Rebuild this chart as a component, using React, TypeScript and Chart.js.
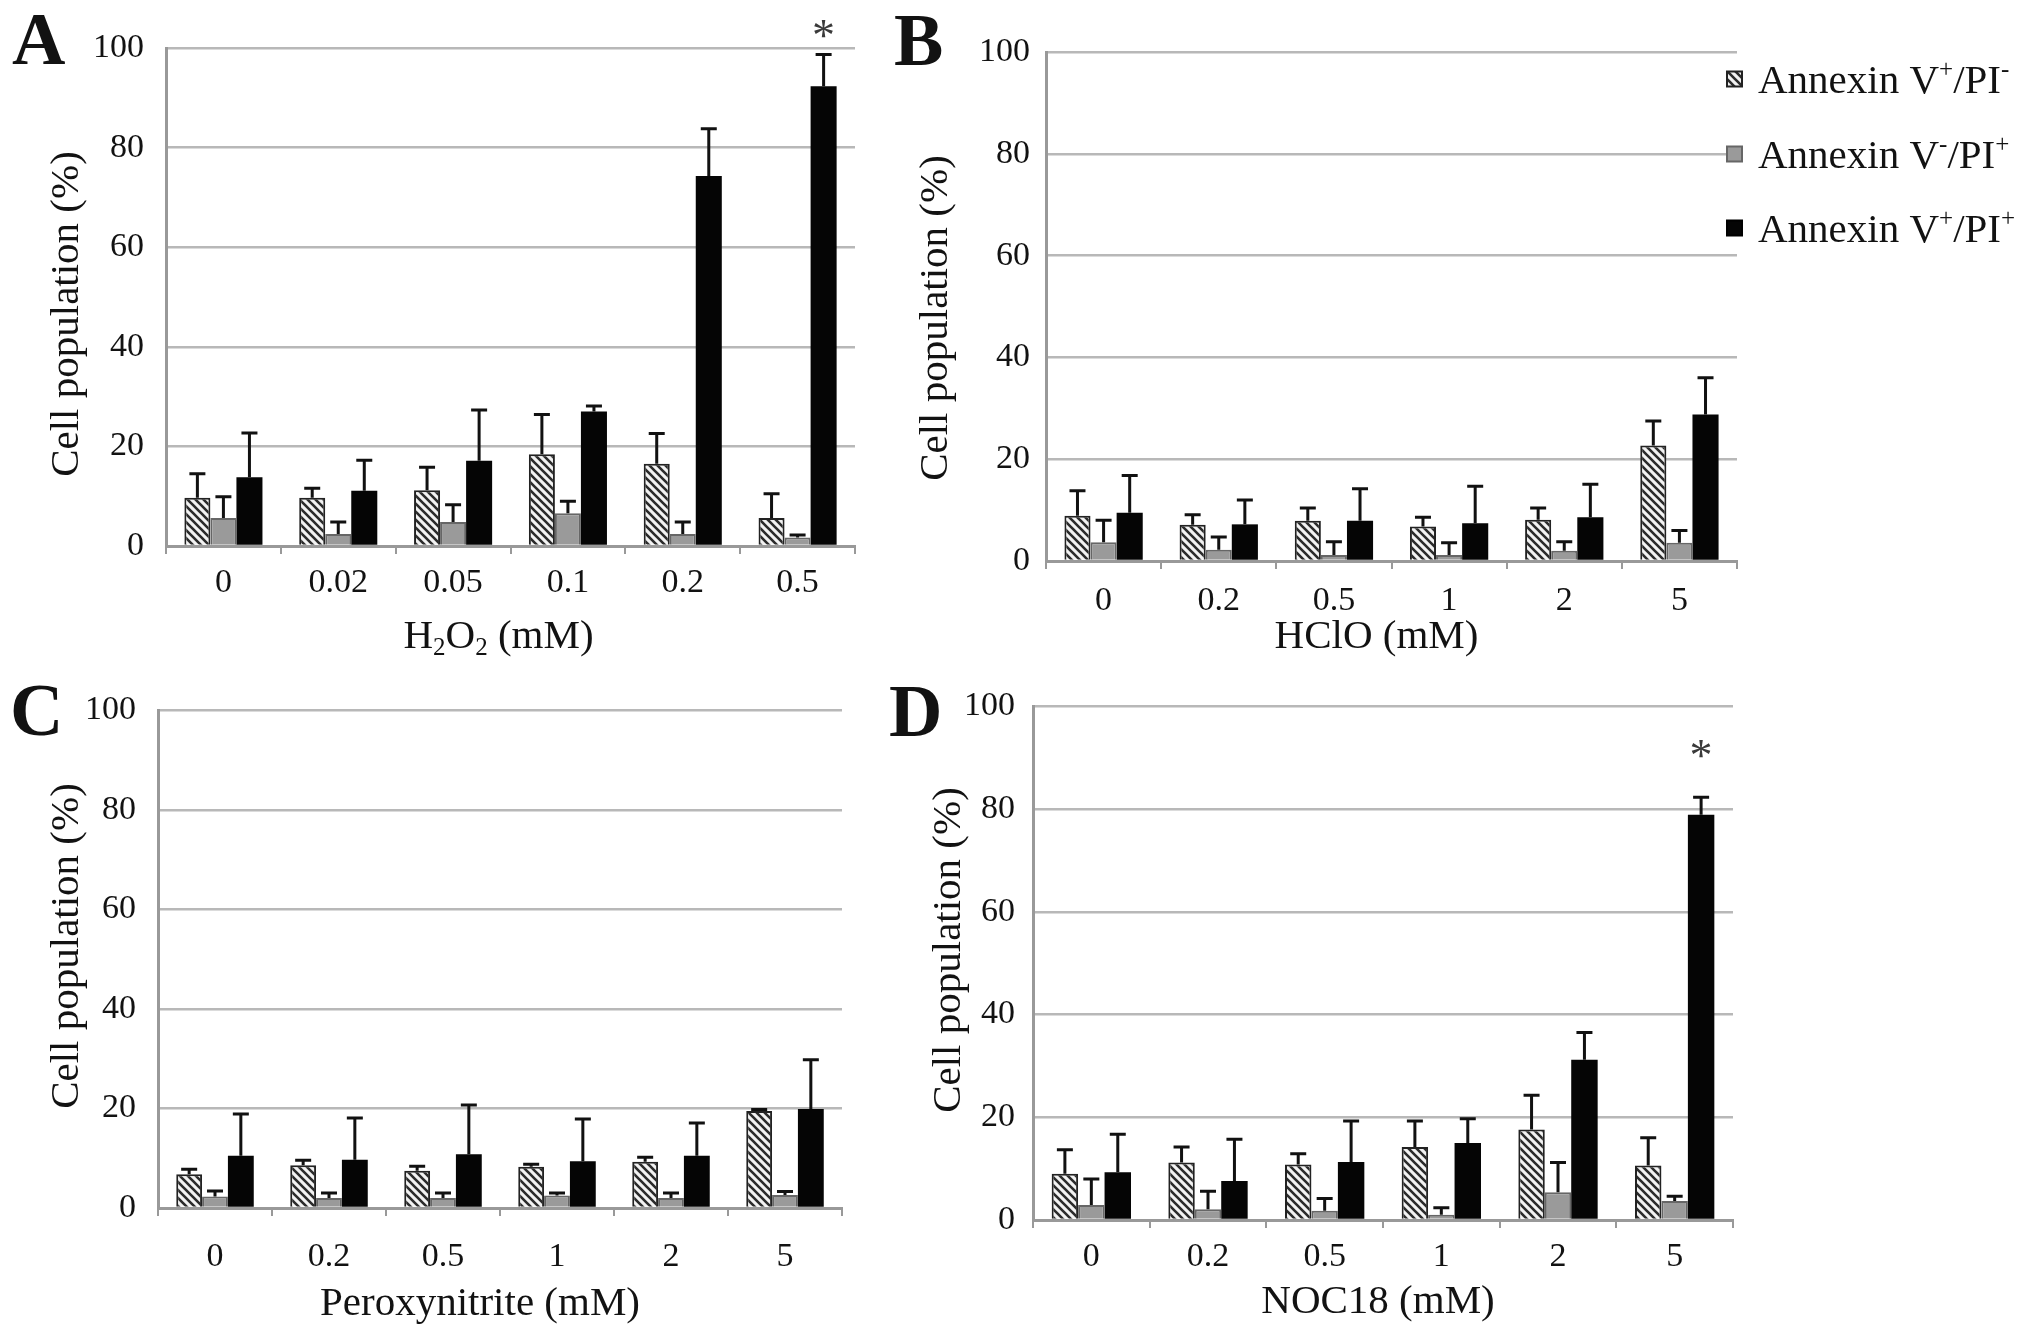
import React, { useEffect, useRef } from "react";
import { Chart, registerables } from "chart.js";

Chart.register(...registerables);

const FONT = "'Liberation Serif', 'Times New Roman', serif";
const INK = "#121212";

// legend labels, ^x = superscript, _x = subscript
const seriesLabels = ["Annexin V^+/PI^-", "Annexin V^-/PI^+", "Annexin V^+/PI^+"];
const yTitle = "Cell population (%)";
const yTicks = [0, 20, 40, 60, 80, 100];

// A: H2O2
const catsA = ["0", "0.02", "0.05", "0.1", "0.2", "0.5"];
const aEarly = [9.7, 9.7, 11.2, 18.4, 16.5, 5.6];
const aNecro = [5.6, 2.4, 4.8, 6.6, 2.4, 1.7];
const aLate = [13.8, 11.1, 17.1, 27.0, 74.3, 92.3];
const aEarlySd = [4.8, 1.9, 4.6, 8.0, 6.1, 4.9];
const aNecroSd = [4.3, 2.4, 3.5, 2.4, 2.4, 0.5];
const aLateSd = [8.9, 6.1, 10.2, 1.1, 9.5, 6.4];
const starsA = [{ index: 5, series: 2, at: 104.5 }];

// B: HClO
const catsB = ["0", "0.2", "0.5", "1", "2", "5"];
const bEarly = [8.9, 7.1, 7.9, 6.8, 8.1, 22.7];
const bNecro = [3.7, 2.2, 1.2, 1.2, 2.0, 3.6];
const bLate = [9.5, 7.2, 7.9, 7.4, 8.6, 28.8];
const bEarlySd = [4.9, 2.0, 2.5, 1.8, 2.3, 4.8];
const bNecroSd = [4.3, 2.5, 2.6, 2.4, 1.8, 2.4];
const bLateSd = [7.3, 4.8, 6.3, 7.3, 6.5, 7.2];

// C: Peroxynitrite
const catsC = ["0", "0.2", "0.5", "1", "2", "5"];
const cEarly = [6.8, 8.6, 7.5, 8.3, 9.3, 19.5];
const cNecro = [2.3, 2.0, 2.0, 2.5, 2.0, 2.6];
const cLate = [10.5, 9.7, 10.8, 9.4, 10.5, 19.9];
const cEarlySd = [1.0, 1.0, 0.9, 0.5, 0.9, 0.3];
const cNecroSd = [1.1, 1.0, 1.0, 0.5, 1.0, 0.7];
const cLateSd = [8.4, 8.4, 9.9, 8.5, 6.6, 9.9];

// D: NOC18
const catsD = ["0", "0.2", "0.5", "1", "2", "5"];
const dEarly = [9.0, 11.2, 10.8, 14.2, 17.6, 10.6];
const dNecro = [2.9, 2.1, 1.8, 1.0, 5.4, 3.7];
const dLate = [9.3, 7.6, 11.3, 15.0, 31.2, 78.9];
const dEarlySd = [4.7, 3.0, 2.1, 5.1, 6.7, 5.4];
const dNecroSd = [5.1, 3.5, 2.4, 1.4, 5.8, 0.9];
const dLateSd = [7.4, 8.1, 8.0, 4.7, 5.3, 3.4];
const starsD = [{ index: 5, series: 2, at: 92.2 }];

type Star = { index: number; series: number; at: number };
type Layout = {
  letter: string;
  left: number; top: number; w: number; h: number;
  area: { l: number; t: number; r: number; b: number };
  yTitleX: number; yTitleY: number;
  tickGap: number; xTitleGap: number; xTitleDx: number;
  letterX: number; letterY: number;
  yTickPad: number;
  legend?: boolean;
};

const layoutA: Layout = { letter: "A", left: 0, top: 0, w: 880, h: 668, area: { l: 166, t: 48, r: 855, b: 546 }, yTitleX: 67, yTitleY: 314, tickGap: 37, xTitleGap: 89, xTitleDx: -12, letterX: 12, letterY: 64, yTickPad: 22 };
const layoutB: Layout = { letter: "B", left: 880, top: 0, w: 1151, h: 668, area: { l: 166, t: 52, r: 857, b: 561 }, yTitleX: 56, yTitleY: 318, tickGap: 40, xTitleGap: 74, xTitleDx: -15, letterX: 14, letterY: 65, yTickPad: 16, legend: true };
const layoutC: Layout = { letter: "C", left: 0, top: 668, w: 880, h: 663, area: { l: 158, t: 38, r: 842, b: 540 }, yTitleX: 67, yTitleY: 278, tickGap: 49, xTitleGap: 94, xTitleDx: -20, letterX: 10, letterY: 67, yTickPad: 22 };
const layoutD: Layout = { letter: "D", left: 880, top: 668, w: 1151, h: 663, area: { l: 153, t: 37, r: 853, b: 552 }, yTitleX: 69, yTitleY: 282, tickGap: 37, xTitleGap: 80, xTitleDx: -5, letterX: 9, letterY: 68, yTickPad: 18 };

const panels = [
  { layout: layoutA, cats: catsA, values: [aEarly, aNecro, aLate], sds: [aEarlySd, aNecroSd, aLateSd], stars: starsA, xTitle: "H_2O_2 (mM)" },
  { layout: layoutB, cats: catsB, values: [bEarly, bNecro, bLate], sds: [bEarlySd, bNecroSd, bLateSd], stars: [] as Star[], xTitle: "HClO (mM)" },
  { layout: layoutC, cats: catsC, values: [cEarly, cNecro, cLate], sds: [cEarlySd, cNecroSd, cLateSd], stars: [] as Star[], xTitle: "Peroxynitrite (mM)" },
  { layout: layoutD, cats: catsD, values: [dEarly, dNecro, dLate], sds: [dEarlySd, dNecroSd, dLateSd], stars: starsD, xTitle: "NOC18 (mM)" },
];

function makeHatch(): CanvasPattern | string {
  const s = 8;
  const c = document.createElement("canvas");
  c.width = s;
  c.height = s;
  const g = c.getContext("2d");
  if (!g) return "#bbb";
  g.fillStyle = "#f2f2f2";
  g.fillRect(0, 0, s, s);
  g.strokeStyle = "#2b2b2b";
  g.lineWidth = 2.6;
  g.beginPath();
  for (let k = -1; k <= 1; k++) {
    g.moveTo(-1, -1 + k * s);
    g.lineTo(s + 1, s + 1 + k * s);
  }
  g.stroke();
  return g.createPattern(c, "repeat") || "#bbb";
}

function parseRich(s: string) {
  const out: { t: string; m: number }[] = [];
  let buf = "";
  for (let i = 0; i < s.length; i++) {
    const ch = s[i];
    if ((ch === "^" || ch === "_") && i + 1 < s.length) {
      if (buf) out.push({ t: buf, m: 0 });
      buf = "";
      out.push({ t: s[i + 1], m: ch === "^" ? 1 : -1 });
      i++;
    } else buf += ch;
  }
  if (buf) out.push({ t: buf, m: 0 });
  return out;
}

function drawRich(ctx: CanvasRenderingContext2D, s: string, x: number, y: number, size: number, align: "left" | "center") {
  const segs = parseRich(s);
  const fontFor = (m: number) => `${m === 0 ? size : Math.round(size * 0.6)}px ${FONT}`;
  let total = 0;
  segs.forEach((g) => {
    ctx.font = fontFor(g.m);
    total += ctx.measureText(g.t).width;
  });
  let cx = align === "center" ? x - total / 2 : x;
  ctx.textAlign = "left";
  ctx.textBaseline = "alphabetic";
  segs.forEach((g) => {
    ctx.font = fontFor(g.m);
    const dy = g.m === 1 ? -size * 0.4 : g.m === -1 ? size * 0.16 : 0;
    ctx.fillText(g.t, cx, y + dy);
    cx += ctx.measureText(g.t).width;
  });
}

const BarPanel: React.FC<{ panel: (typeof panels)[number] }> = ({ panel }) => {
  const ref = useRef<HTMLCanvasElement>(null);
  const L = panel.layout;

  useEffect(() => {
    if (!ref.current) return;
    const hatch = makeHatch();
    const fills: (CanvasPattern | string)[] = [hatch, "#9a9a9a", "#050505"];
    const borders = ["#222", "#666", "#000"];
    const xh = 100;

    const overlay = {
      id: "overlay",
      afterDatasetsDraw(chart: Chart) {
        const ctx = chart.ctx;
        const ys = chart.scales.y;
        ctx.save();
        ctx.strokeStyle = "#111";
        ctx.lineWidth = 3;
        chart.data.datasets.forEach((ds, di) => {
          const meta = chart.getDatasetMeta(di);
          meta.data.forEach((bar, i) => {
            const v = ds.data[i] as number;
            const sd = panel.sds[di][i];
            const x = bar.x;
            const y0 = ys.getPixelForValue(v);
            const y1 = ys.getPixelForValue(v + sd);
            ctx.beginPath();
            ctx.moveTo(x, y0);
            ctx.lineTo(x, y1);
            ctx.moveTo(x - 8, y1);
            ctx.lineTo(x + 8, y1);
            ctx.stroke();
          });
        });
        ctx.restore();
      },
      afterDraw(chart: Chart) {
        const ctx = chart.ctx;
        const area = chart.chartArea;
        const ys = chart.scales.y;
        ctx.save();
        ctx.fillStyle = INK;
        // panel letter
        ctx.font = `bold 74px ${FONT}`;
        ctx.textAlign = "left";
        ctx.textBaseline = "alphabetic";
        ctx.fillText(L.letter, L.letterX, L.letterY);
        // y title
        ctx.save();
        ctx.translate(L.yTitleX, L.yTitleY);
        ctx.rotate(-Math.PI / 2);
        ctx.font = `41px ${FONT}`;
        ctx.textAlign = "center";
        ctx.textBaseline = "middle";
        ctx.fillText(yTitle, 0, 0);
        ctx.restore();
        // x title
        drawRich(ctx, panel.xTitle, (area.left + area.right) / 2 + L.xTitleDx, area.bottom + L.xTitleGap + 13, 41, "center");
        // significance marks
        panel.stars.forEach((st) => {
          const bar = chart.getDatasetMeta(st.series).data[st.index];
          ctx.font = `46px ${FONT}`;
          ctx.textAlign = "center";
          ctx.textBaseline = "alphabetic";
          ctx.fillStyle = "#3a3a3a";
          ctx.fillText("*", bar.x, ys.getPixelForValue(st.at) + 25);
        });
        // legend
        if (L.legend) {
          const rows = [79, 154, 228];
          seriesLabels.forEach((lab, i) => {
            const cy = rows[i];
            ctx.fillStyle = fills[i] as any;
            ctx.fillRect(847, cy - 7.5, 15, 15);
            ctx.strokeStyle = borders[i];
            ctx.lineWidth = 2;
            ctx.strokeRect(847, cy - 7.5, 15, 15);
            ctx.fillStyle = INK;
            drawRich(ctx, lab, 878, cy + 14, 41, "left");
          });
        }
        ctx.restore();
      },
    };

    const chart = new Chart(ref.current, {
      type: "bar",
      data: {
        labels: panel.cats,
        datasets: panel.values.map((vals, i) => ({
          label: seriesLabels[i],
          data: vals,
          backgroundColor: fills[i] as any,
          borderColor: borders[i],
          borderWidth: i === 2 ? 0 : 2,
          categoryPercentage: 0.68,
          barPercentage: 1.0,
        })),
      },
      options: {
        responsive: false,
        maintainAspectRatio: false,
        animation: false,
        events: [],
        layout: {
          padding: { left: 0, top: L.area.t, right: L.w - L.area.r, bottom: L.h - L.area.b - xh },
        },
        plugins: {
          legend: { display: false },
          tooltip: { enabled: false },
        },
        scales: {
          x: {
            type: "category",
            offset: true,
            grid: { display: true, offset: true, drawOnChartArea: false, drawTicks: true, tickLength: 8, color: "#999", lineWidth: 2 },
            border: { display: true, color: "#999", width: 3 },
            ticks: { color: INK, font: { family: FONT, size: 34 }, padding: L.tickGap - 8 - 20.4, maxRotation: 0, autoSkip: false },
            afterFit: (s: any) => {
              s.height = xh;
            },
          },
          y: {
            min: 0,
            max: 100,
            afterBuildTicks: (s: any) => {
              s.ticks = yTicks.map((v) => ({ value: v }));
            },
            ticks: { color: INK, font: { family: FONT, size: 34 }, padding: L.yTickPad },
            grid: { color: "#b8b8b8", lineWidth: 2.5, drawTicks: false },
            border: { display: true, color: "#999", width: 3 },
            afterFit: (s: any) => {
              s.width = L.area.l;
            },
          },
        },
      },
      plugins: [overlay],
    });

    return () => {
      chart.destroy();
    };
  }, [panel]);

  return (
    <canvas
      ref={ref}
      width={L.w}
      height={L.h}
      style={{ position: "absolute", left: L.left, top: L.top, width: L.w, height: L.h }}
    />
  );
};

export default function App() {
  return (
    <div style={{ position: "fixed", left: 0, top: 0, width: 2031, height: 1331, background: "#fff", overflow: "hidden" }}>
      {panels.map((p) => (
        <BarPanel key={p.layout.letter} panel={p} />
      ))}
    </div>
  );
}
